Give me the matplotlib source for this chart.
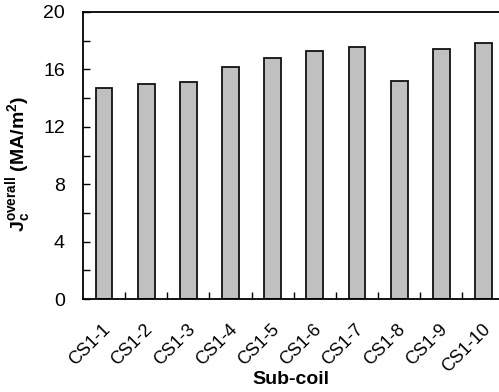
import matplotlib.pyplot as plt
import matplotlib.transforms as mtransforms
import numpy as np

plt.rcParams['font.family'] = ['Liberation Sans', 'DejaVu Sans']
plt.rcParams['mathtext.fontset'] = 'custom'
plt.rcParams['mathtext.rm'] = 'Liberation Sans:bold'
plt.rcParams['mathtext.it'] = 'Liberation Sans:bold'
plt.rcParams['mathtext.bf'] = 'Liberation Sans:bold'

subcoils = ["CS1-1", "CS1-2", "CS1-3", "CS1-4", "CS1-5",
            "CS1-6", "CS1-7", "CS1-8", "CS1-9", "CS1-10"]
jc_overall = [14.7, 14.95, 15.1, 16.15, 16.8, 17.25, 17.55, 15.2, 17.4, 17.85]

x = np.arange(len(subcoils))

fig = plt.figure(figsize=(4.99, 3.92), dpi=100)
ax = fig.add_axes([0.1663, 0.2372, 0.845, 0.7322])

ax.bar(x, jc_overall, width=0.4, color="#c0c0c0", edgecolor="#111111", linewidth=1.3)

ax.set_xlim(-0.5, len(subcoils) - 0.5)
ax.set_ylim(0, 20)

ax.set_yticks([0, 4, 8, 12, 16, 20])
ax.set_yticks(np.arange(2, 20, 4), minor=True)
ax.tick_params(axis='y', which='both', direction='in', length=5, width=1, labelsize=14, pad=13)

ax.set_xticks(x)
ax.set_xticklabels(subcoils, rotation=45, ha='right', va='top', rotation_mode='anchor', fontsize=13)
ax.tick_params(axis='x', which='major', length=0, pad=16)
ax.set_xticks(np.arange(0.5, len(subcoils) - 0.5, 1), minor=True)
ax.tick_params(axis='x', which='minor', direction='in', length=5, width=1)
shift = mtransforms.ScaledTranslation(-0.02, 0, fig.dpi_scale_trans)
for lbl in ax.get_xticklabels():
    lbl.set_transform(lbl.get_transform() + shift)

for s in ax.spines.values():
    s.set_linewidth(1.3)

ax.set_xlabel("Sub-coil", fontsize=14, fontweight='bold', va='top')
ax.xaxis.set_label_coords(0.493, -0.25)
ax.set_ylabel(r"J$_\mathrm{c}^\mathrm{overall}$ (MA/m$^\mathrm{2}$)", fontsize=14, fontweight='bold')
ax.yaxis.set_label_coords(-0.118, 0.47)

plt.savefig('out.png')
